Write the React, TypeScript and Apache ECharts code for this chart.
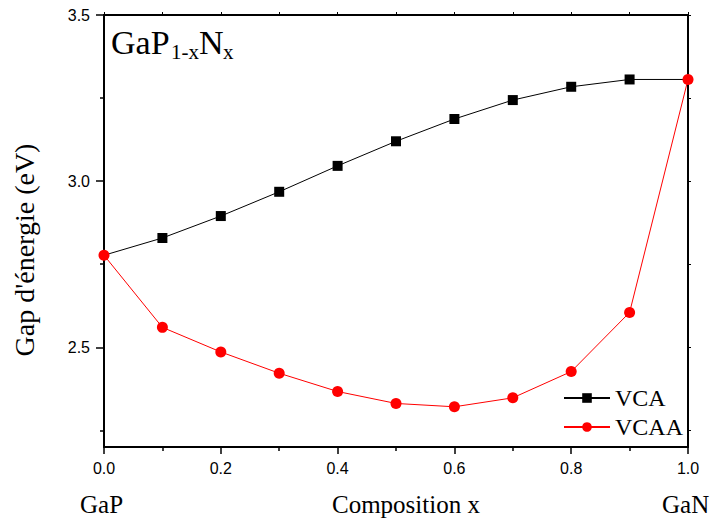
import React, { useEffect, useRef } from "react";
import * as echarts from "echarts";

const composition = [0, 0.1, 0.2, 0.3, 0.4, 0.5, 0.6, 0.7, 0.8, 0.9, 1.0];
const vcaGap = [2.777, 2.829, 2.895, 2.968, 3.046, 3.12, 3.187, 3.244, 3.284, 3.306, 3.306];
const vcaaGap = [2.777, 2.56, 2.486, 2.422, 2.367, 2.331, 2.321, 2.348, 2.427, 2.605, 3.306];
const yMajorTicks = [2.5, 3.0, 3.5];
const yMinorTicks = [2.25, 2.75, 3.25];
const yAllTicks = [2.25, 2.5, 2.75, 3.0, 3.25, 3.5];
const seriesNames = ["VCA", "VCAA"];

const SERIF = "Liberation Serif";
const SANS = "Liberation Sans";

export default function App() {
  const ref = useRef<HTMLDivElement>(null);
  useEffect(() => {
    if (!ref.current) return;
    const chart = echarts.init(ref.current, undefined, { renderer: "svg" });
    const pairs = (ys: number[]) => composition.map((x, i) => [x, ys[i]]);
    const axisLine = { show: true, lineStyle: { color: "#000", width: 2 } };
    const txt = (text: string, x: number, y: number, size: number, extra: any = {}) => ({
      type: "text",
      x,
      y,
      ...extra,
      style: {
        text,
        fontFamily: SERIF,
        fontSize: size,
        fill: "#000",
        align: "left",
        verticalAlign: "middle",
        ...(extra.style || {}),
      },
    });
    chart.setOption({
      animation: false,
      backgroundColor: "#fff",
      grid: { left: 104, right: 23, top: 15, bottom: 75, containLabel: false },
      legend: {
        left: 558,
        top: 381,
        orient: "vertical",
        itemWidth: 46,
        itemHeight: 12,
        itemGap: 5,
        data: seriesNames,
        textStyle: { fontFamily: SERIF, fontSize: 24, color: "#000", lineHeight: 24 },
      },
      xAxis: [
        {
          type: "value",
          min: 0,
          max: 1,
          interval: 0.2,
          position: "bottom",
          axisLine,
          axisTick: { show: true, inside: false, length: 7, lineStyle: { color: "#000", width: 1.5 } },
          minorTick: { show: true, splitNumber: 2, length: 4, lineStyle: { color: "#000", width: 1.5 } },
          axisLabel: {
            margin: 13,
            fontFamily: SANS,
            fontSize: 16,
            color: "#000",
            formatter: (v: number) => v.toFixed(1),
          },
          splitLine: { show: false },
        },
        {
          type: "value",
          min: 0,
          max: 1,
          interval: 0.1,
          position: "top",
          axisLine,
          axisTick: { show: true, inside: false, length: 3, lineStyle: { color: "#000", width: 1 } },
          axisLabel: { show: false },
          splitLine: { show: false },
        },
      ],
      yAxis: [
        {
          type: "value",
          min: 2.2,
          max: 3.5,
          position: "left",
          axisLine,
          axisTick: {
            show: true,
            inside: false,
            length: 8,
            customValues: yMajorTicks,
            lineStyle: { color: "#000", width: 1.5 },
          },
          axisLabel: {
            margin: 14,
            fontFamily: SANS,
            fontSize: 16,
            color: "#000",
            customValues: yMajorTicks,
            formatter: (v: number) => v.toFixed(1),
          },
          splitLine: { show: false },
        },
        {
          type: "value",
          min: 2.2,
          max: 3.5,
          position: "left",
          axisLine: { show: false },
          axisTick: {
            show: true,
            inside: false,
            length: 4,
            customValues: yMinorTicks,
            lineStyle: { color: "#000", width: 1.5 },
          },
          axisLabel: { show: false },
          splitLine: { show: false },
        },
        {
          type: "value",
          min: 2.2,
          max: 3.5,
          position: "right",
          axisLine,
          axisTick: {
            show: true,
            inside: false,
            length: 3,
            customValues: yAllTicks,
            lineStyle: { color: "#000", width: 1 },
          },
          axisLabel: { show: false },
          splitLine: { show: false },
        },
      ],
      series: [
        {
          name: seriesNames[0],
          type: "line",
          data: pairs(vcaGap),
          symbol: "rect",
          symbolSize: (_v: any, p: any) =>
            p.dataIndex === 0 || p.dataIndex === composition.length - 1 ? 0 : 10,
          itemStyle: { color: "#000" },
          lineStyle: { color: "#000", width: 1 },
          clip: false,
          z: 2,
        },
        {
          name: seriesNames[1],
          type: "line",
          data: pairs(vcaaGap),
          symbol: "circle",
          symbolSize: 11,
          itemStyle: { color: "#ff0000" },
          lineStyle: { color: "#ff0000", width: 1 },
          clip: false,
          z: 3,
        },
      ],
      graphic: [
        txt("GaP", 111, 42, 34),
        txt("1-x", 171, 52, 21),
        txt("N", 199, 42, 34),
        txt("x", 223, 52, 21),
        txt("GaP", 80, 504, 25),
        txt("Composition x", 332, 504, 25),
        txt("GaN", 662, 504, 25),
        txt("Gap d'énergie (eV)", 24, 250, 28, { rotation: Math.PI / 2, style: { align: "center" } }),
      ],
    });
    return () => chart.dispose();
  }, []);
  return <div ref={ref} style={{ width: 711, height: 522, position: "absolute", left: 0, top: 0 }} />;
}
